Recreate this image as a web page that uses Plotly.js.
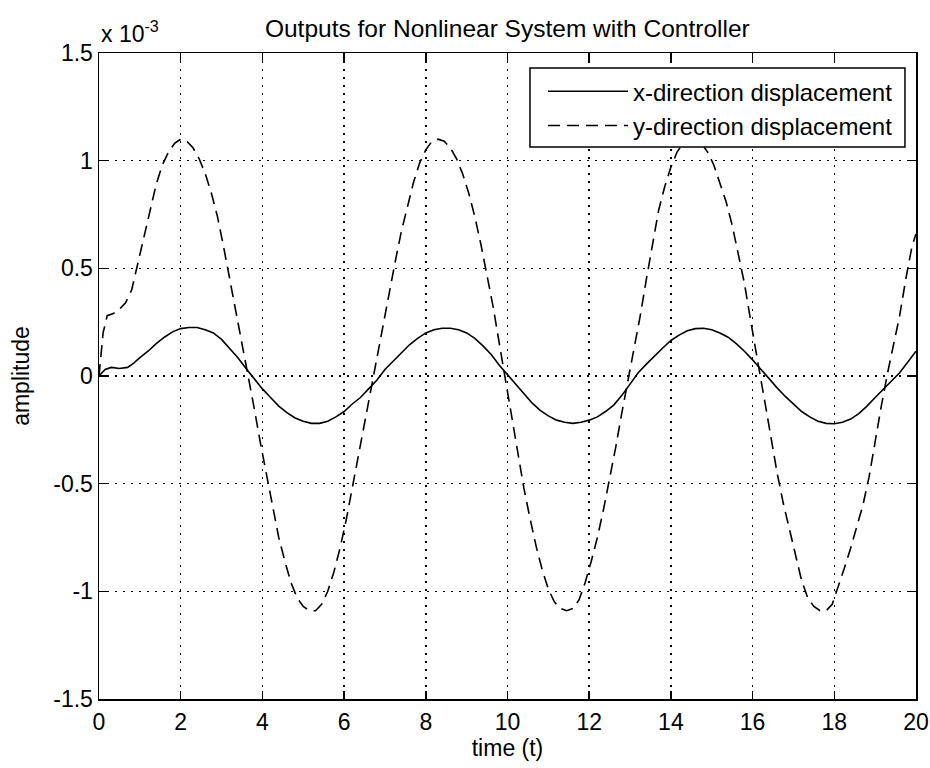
<!DOCTYPE html>
<html>
<head>
<meta charset="utf-8">
<script src="https://cdn.plot.ly/plotly-3.0.1.min.js"></script>
<style>html,body{margin:0;padding:0;background:#fff;}#chart{width:930px;height:768px;}</style>
</head>
<body>
<div id="chart"></div>
<script>
// values, amplitude in units of 1e-3
const scale = 1e-3;
const tX = [0,0.15,0.3,0.5,0.7,0.85,1.0,1.2,1.4,1.6,1.8,2.0,2.2,2.4,2.6,2.8,3.0,3.2,3.4,3.6,3.8,4.0,4.2,4.4,4.6,4.8,5.0,5.2,5.4,5.6,5.8,6.0,6.2,6.4,6.6,6.8,7.0,7.2,7.4,7.6,7.8,8.0,8.2,8.4,8.6,8.8,9.0,9.2,9.4,9.6,9.8,10.0,10.2,10.4,10.6,10.8,11.0,11.2,11.4,11.6,11.8,12.0,12.2,12.4,12.6,12.8,13.0,13.2,13.4,13.6,13.8,14.0,14.2,14.4,14.6,14.8,15.0,15.2,15.4,15.6,15.8,16.0,16.2,16.4,16.6,16.8,17.0,17.2,17.4,17.6,17.8,18.0,18.2,18.4,18.6,18.8,19.0,19.2,19.4,19.6,19.8,20.0];
const xDisp = [0,0.03,0.04,0.035,0.04,0.06,0.085,0.115,0.15,0.18,0.205,0.22,0.225,0.225,0.215,0.2,0.17,0.13,0.085,0.035,-0.015,-0.06,-0.1,-0.14,-0.17,-0.195,-0.21,-0.22,-0.22,-0.21,-0.19,-0.165,-0.13,-0.1,-0.06,-0.02,0.03,0.07,0.11,0.145,0.175,0.2,0.215,0.222,0.222,0.215,0.2,0.175,0.14,0.1,0.05,0.005,-0.04,-0.085,-0.125,-0.16,-0.185,-0.205,-0.215,-0.22,-0.215,-0.205,-0.19,-0.165,-0.135,-0.09,-0.035,0.015,0.055,0.095,0.13,0.165,0.19,0.21,0.22,0.222,0.215,0.2,0.18,0.15,0.115,0.075,0.03,-0.01,-0.055,-0.095,-0.13,-0.165,-0.19,-0.21,-0.22,-0.222,-0.215,-0.2,-0.175,-0.14,-0.1,-0.06,-0.025,0.015,0.065,0.115];
const tY = [0,0.1,0.2,0.35,0.5,0.65,0.8,0.95,1.1,1.25,1.4,1.55,1.7,1.85,2.0,2.15,2.3,2.45,2.6,2.75,2.9,3.05,3.2,3.35,3.5,3.65,3.8,3.95,4.1,4.25,4.4,4.55,4.7,4.85,5.0,5.15,5.3,5.45,5.6,5.75,5.9,6.05,6.2,6.35,6.5,6.65,6.8,6.95,7.1,7.25,7.4,7.55,7.7,7.85,8.0,8.15,8.3,8.45,8.6,8.75,8.9,9.05,9.2,9.35,9.5,9.65,9.8,9.95,10.1,10.25,10.4,10.55,10.7,10.85,11.0,11.15,11.3,11.45,11.6,11.75,11.9,12.05,12.2,12.35,12.5,12.65,12.8,12.95,13.1,13.25,13.4,13.55,13.7,13.85,14.0,14.15,14.3,14.45,14.6,14.75,14.9,15.05,15.2,15.35,15.5,15.65,15.8,15.95,16.0,16.15,16.3,16.45,16.6,16.75,16.9,17.05,17.2,17.35,17.5,17.65,17.8,17.95,18.1,18.25,18.4,18.55,18.7,18.85,19.0,19.15,19.3,19.45,19.6,19.75,19.9,20.0];
const yDisp = [0,0.2,0.28,0.29,0.31,0.34,0.4,0.52,0.64,0.77,0.89,0.98,1.04,1.08,1.1,1.09,1.06,1.01,0.94,0.85,0.74,0.6,0.45,0.31,0.16,0.0,-0.15,-0.31,-0.46,-0.61,-0.75,-0.86,-0.96,-1.03,-1.07,-1.09,-1.09,-1.06,-1.0,-0.91,-0.8,-0.67,-0.52,-0.37,-0.22,-0.06,0.09,0.24,0.39,0.53,0.67,0.79,0.9,0.99,1.05,1.09,1.1,1.09,1.06,1.01,0.94,0.85,0.74,0.61,0.47,0.32,0.15,-0.02,-0.19,-0.36,-0.52,-0.66,-0.79,-0.9,-0.99,-1.05,-1.08,-1.09,-1.08,-1.04,-0.96,-0.86,-0.75,-0.62,-0.48,-0.33,-0.17,-0.02,0.13,0.28,0.45,0.62,0.77,0.88,0.97,1.04,1.08,1.1,1.1,1.08,1.04,0.98,0.9,0.81,0.7,0.57,0.43,0.26,0.2,0.04,-0.12,-0.28,-0.45,-0.59,-0.71,-0.84,-0.95,-1.03,-1.07,-1.09,-1.09,-1.06,-0.98,-0.89,-0.8,-0.7,-0.6,-0.47,-0.3,-0.14,0.01,0.14,0.28,0.45,0.6,0.66];
const yTickVals = [-1.5,-1,-0.5,0,0.5,1,1.5];
const yTickText = ['-1.5','-1','-0.5','0','0.5','1','1.5'];
const xTickVals = [0,2,4,6,8,10,12,14,16,18,20];
const seriesNames = ['x-direction displacement','y-direction displacement'];

const font = 'Liberation Sans, Arial, sans-serif';
const traces = [
  {x: tX, y: xDisp.map(v => v*scale), name: seriesNames[0], mode: 'lines',
   line: {color: '#000', width: 1.6, dash: 'solid'}},
  {x: tY, y: yDisp.map(v => v*scale), name: seriesNames[1], mode: 'lines',
   line: {color: '#000', width: 1.6, dash: '12px,7px'}}
];
const axisCommon = {
  showline: true, linecolor: '#000', linewidth: 1.5, mirror: 'ticks',
  ticks: 'inside', ticklen: 8, tickcolor: '#000', tickwidth: 1.5,
  showgrid: true, gridcolor: '#000', gridwidth: 1.5, griddash: '2px,6px',
  zeroline: false, tickfont: {family: font, size: 23, color: '#000'}
};
const layout = {
  width: 930, height: 768,
  margin: {l: 99, r: 14, t: 53, b: 69},
  paper_bgcolor: '#fff', plot_bgcolor: '#fff',
  showlegend: true,
  title: {text: 'Outputs for Nonlinear System with Controller', font: {family: font, size: 24.5, color: '#000'},
          x: 0.5455, xanchor: 'center', y: 0.963, yanchor: 'middle'},
  xaxis: Object.assign({}, axisCommon, {
    range: [0, 20], tickvals: xTickVals, ticklabelstandoff: 2,
    title: {text: 'time (t)', font: {family: font, size: 23, color: '#000'}, standoff: 4}
  }),
  yaxis: Object.assign({}, axisCommon, {
    range: [-1.5*scale, 1.5*scale], tickvals: yTickVals.map(v => v*scale), ticktext: yTickText,
    title: {text: 'amplitude', font: {family: font, size: 23, color: '#000'}, standoff: 17}
  }),
  shapes: [{
    type: 'rect', xref: 'paper', yref: 'paper', layer: 'above',
    x0: 0.5275, x1: 0.9865, y0: 0.8545, y1: 0.9768,
    fillcolor: '#fff', line: {color: '#000', width: 1.5}
  }],
  legend: {
    x: 0.978, xanchor: 'right', y: 0.975, yanchor: 'top',
    bgcolor: 'rgba(0,0,0,0)', borderwidth: 0,
    font: {family: font, size: 24, color: '#000'}, itemwidth: 80, tracegroupgap: 0
  },
  annotations: [{
    text: 'x 10<sup>-3</sup>', xref: 'paper', yref: 'paper', x: 0, y: 1, xanchor: 'left', yanchor: 'bottom',
    yshift: 4, showarrow: false, font: {family: font, size: 23, color: '#000'}
  }]
};
Plotly.newPlot('chart', traces, layout, {displayModeBar: false, staticPlot: true});
</script>
</body>
</html>
